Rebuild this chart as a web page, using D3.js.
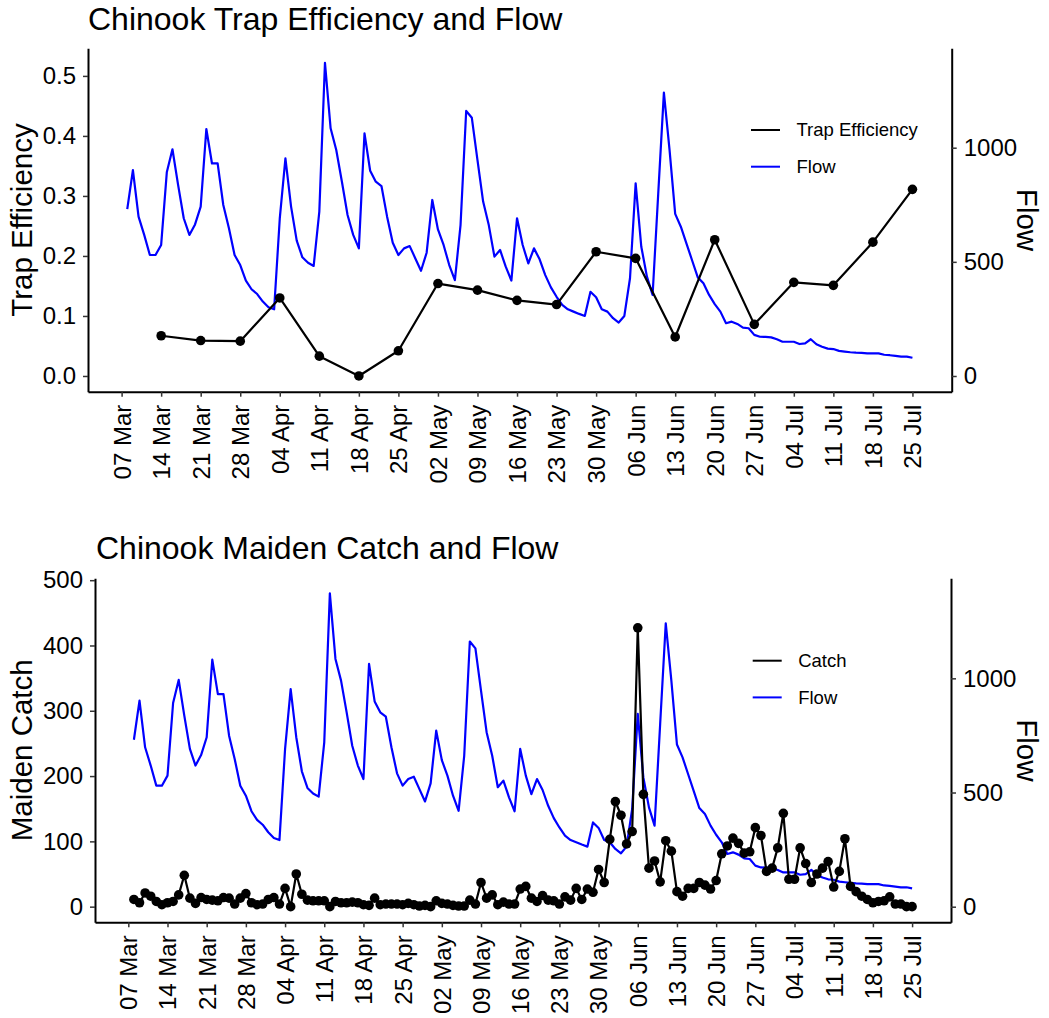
<!DOCTYPE html>
<html>
<head>
<meta charset="utf-8">
<script src="https://cdn.jsdelivr.net/npm/d3@7"></script>
<style>
  body { margin: 0; background: #fff; }
  text { font-family: "Liberation Sans", Arial, sans-serif; fill: #000; }
</style>
</head>
<body>
<svg id="chart" width="1049" height="1018"></svg>
<script>
// daily series start on this date (one value per day)
var startDate = "2019-03-08";

// daily flow, Mar 8 - Jul 25
var flow = [
  731, 902, 698, 618, 530, 530, 574, 892, 993, 837,
  691, 618, 664, 742, 1082, 931, 931, 749, 647, 530,
  486, 418, 380, 359, 326, 301, 292, 690, 953, 742,
  593, 520, 496, 482, 720, 1372, 1085, 990, 851, 705,
  618, 559, 1063, 899, 851, 832, 698, 584, 530, 559,
  569, 515, 461, 540, 771, 642, 574, 486, 420, 661,
  1161, 1131, 946, 764, 661, 523, 552, 479, 418, 691,
  574, 493, 559, 511, 442, 388, 347, 311, 292, 282,
  272, 263, 369, 345, 292, 282, 253, 234, 263, 428,
  844, 566, 435, 355, 800, 1241, 990, 710, 654, 580,
  506, 432, 406, 355, 315, 282, 231, 238, 228, 212,
  209, 180, 172, 171, 169, 161, 150, 150, 150, 140,
  143, 161, 139, 128, 120, 118, 110, 107, 104, 102,
  101, 99, 99, 99, 93, 91, 88, 85, 85, 80
];

// daily maiden catch, Mar 8 - Jul 25
var maidenCatch = [
  11, 6, 21, 16, 8, 3, 6, 8, 18, 48,
  13, 5, 14, 11, 10, 9, 14, 13, 4, 13,
  20, 6, 3, 4, 11, 14, 4, 28, 0, 50,
  19, 10, 9, 9, 9, 0, 8, 6, 6, 7,
  6, 3, 2, 13, 3, 4, 4, 4, 3, 5,
  3, 1, 2, 0, 9, 5, 4, 2, 1, 1,
  10, 4, 37, 13, 18, 3, 7, 4, 4, 27,
  31, 13, 8, 17, 10, 9, 4, 15, 10, 28,
  11, 27, 22, 57, 37, 103, 161, 140, 96, 115,
  427, 172, 59, 70, 38, 101, 85, 23, 16, 28,
  28, 37, 33, 27, 40, 81, 93, 105, 97, 82,
  84, 121, 109, 54, 59, 90, 143, 42, 42, 90,
  66, 37, 50, 59, 69, 30, 54, 104, 31, 23,
  16, 11, 6, 8, 9, 15, 4, 4, 0, 0
];

// weekly trap efficiency
var effDates = [
  "2019-03-14", "2019-03-21", "2019-03-28", "2019-04-04", "2019-04-11",
  "2019-04-18", "2019-04-25", "2019-05-02", "2019-05-09", "2019-05-16",
  "2019-05-23", "2019-05-30", "2019-06-06", "2019-06-13", "2019-06-20",
  "2019-06-27", "2019-07-04", "2019-07-11", "2019-07-18", "2019-07-25"
];
var effValues = [
  0.067, 0.059, 0.058, 0.130, 0.033, 0.000, 0.042, 0.154, 0.143, 0.126,
  0.119, 0.207, 0.196, 0.065, 0.227, 0.086, 0.156, 0.151, 0.223, 0.311
];

// x tick labels (weekly)
var xTicks = [
  "2019-03-07", "2019-03-14", "2019-03-21", "2019-03-28", "2019-04-04",
  "2019-04-11", "2019-04-18", "2019-04-25", "2019-05-02", "2019-05-09",
  "2019-05-16", "2019-05-23", "2019-05-30", "2019-06-06", "2019-06-13",
  "2019-06-20", "2019-06-27", "2019-07-04", "2019-07-11", "2019-07-18",
  "2019-07-25"
];
var effTicks = [0, 0.1, 0.2, 0.3, 0.4, 0.5];
var catchTicks = [0, 100, 200, 300, 400, 500];
var flowTicks = [0, 500, 1000];

var parse = d3.timeParse("%Y-%m-%d");
var day0 = parse(startDate);
var days = flow.map(function(v, i) { return d3.timeDay.offset(day0, i); });

var flowData = flow.map(function(v, i) { return {date: days[i], value: v}; });
var catchData = maidenCatch.map(function(v, i) { return {date: days[i], value: v}; });
var effData = effValues.map(function(v, i) { return {date: parse(effDates[i]), value: v}; });

var svg = d3.select("#chart");

function drawPanel(p) {
  var g = svg.append("g");

  // x domain padded 5% each side, like ggplot
  var first = days[0], last = days[days.length - 1];
  var pad = (last - first) * 0.05;
  var x = d3.scaleTime()
    .domain([new Date(+first - pad), new Date(+last + pad)])
    .range([p.left, p.right]);
  var yL = d3.scaleLinear().domain(p.leftDomain).range([p.bottom, p.top]);
  var yR = d3.scaleLinear().domain(p.rightDomain).range([p.bottom, p.top]);

  // flow line (right axis)
  var flowLine = d3.line()
    .x(function(d) { return x(d.date); })
    .y(function(d) { return yR(d.value); });
  g.append("path")
    .datum(flowData)
    .attr("d", flowLine)
    .attr("fill", "none")
    .attr("stroke", "#0000ff")
    .attr("stroke-width", 2.2)
    .attr("stroke-linejoin", "round");

  // black series with points (left axis)
  var line = d3.line()
    .x(function(d) { return x(d.date); })
    .y(function(d) { return yL(d.value); });
  g.append("path")
    .datum(p.data)
    .attr("d", line)
    .attr("fill", "none")
    .attr("stroke", "#000")
    .attr("stroke-width", 2.2)
    .attr("stroke-linejoin", "round");
  g.selectAll(".pt")
    .data(p.data)
    .enter()
    .append("circle")
    .attr("class", "pt")
    .attr("cx", function(d) { return x(d.date); })
    .attr("cy", function(d) { return yL(d.value); })
    .attr("r", 4.8)
    .attr("fill", "#000");

  // axes
  var xAxis = g.append("g")
    .attr("transform", "translate(0," + p.bottom + ")")
    .call(d3.axisBottom(x)
      .tickValues(xTicks.map(parse))
      .tickFormat(d3.timeFormat("%d %b"))
      .tickSize(5)
      .tickSizeOuter(0));
  xAxis.selectAll("text")
    .attr("transform", "rotate(-90)")
    .attr("x", -13)
    .attr("y", 0)
    .attr("dy", "0.35em")
    .style("text-anchor", "end")
    .style("font-size", "24px");

  var leftAxis = g.append("g")
    .attr("transform", "translate(" + p.left + ",0)")
    .call(d3.axisLeft(yL)
      .tickValues(p.leftTicks)
      .tickFormat(p.leftFormat)
      .tickSize(5)
      .tickSizeOuter(0)
      .tickPadding(7));
  leftAxis.selectAll("text").style("font-size", "24px");

  var rightAxis = g.append("g")
    .attr("transform", "translate(" + p.right + ",0)")
    .call(d3.axisRight(yR)
      .tickValues(flowTicks)
      .tickFormat(d3.format("d"))
      .tickSize(5)
      .tickSizeOuter(0)
      .tickPadding(7));
  rightAxis.selectAll("text").style("font-size", "24px");

  [xAxis, leftAxis, rightAxis].forEach(function(a) {
    a.select(".domain").attr("stroke", "#000").attr("stroke-width", 2);
    a.selectAll(".tick line").attr("stroke", "#333").attr("stroke-width", 1.5);
    a.selectAll("text").attr("fill", "#000").attr("font-family", null);
  });

  // titles
  g.append("text")
    .attr("x", p.titleX)
    .attr("y", p.titleY)
    .style("font-size", "32px")
    .text(p.title);

  var midY = (p.top + p.bottom) / 2;
  g.append("text")
    .attr("transform", "translate(32," + midY + ") rotate(-90)")
    .style("text-anchor", "middle")
    .style("font-size", "29.5px")
    .text(p.leftLabel);
  g.append("text")
    .attr("transform", "translate(1017," + midY + ") rotate(90)")
    .style("text-anchor", "middle")
    .style("font-size", "29.5px")
    .text("Flow");

  // legend
  var legend = [
    {label: p.legendLabel, color: "#000"},
    {label: "Flow", color: "#0000ff"}
  ];
  var lg = g.append("g");
  legend.forEach(function(item, i) {
    var ly = p.legendY + i * 36.7;
    lg.append("line")
      .attr("x1", p.legendX).attr("x2", p.legendX + 29)
      .attr("y1", ly).attr("y2", ly)
      .attr("stroke", item.color)
      .attr("stroke-width", 2);
    lg.append("text")
      .attr("x", p.legendX + 45.5)
      .attr("y", ly)
      .attr("dy", "0.35em")
      .style("font-size", "18.5px")
      .text(item.label);
  });
}

drawPanel({
  title: "Chinook Trap Efficiency and Flow",
  titleX: 88, titleY: 30,
  left: 88, right: 951.7, top: 48.3, bottom: 391.7,
  leftDomain: [-0.0262, 0.546],
  rightDomain: [-68.8, 1435.4],
  leftTicks: effTicks,
  leftFormat: d3.format(".1f"),
  leftLabel: "Trap Efficiency",
  legendLabel: "Trap Efficiency",
  legendX: 751, legendY: 130,
  data: effData
});

drawPanel({
  title: "Chinook Maiden Catch and Flow",
  titleX: 96, titleY: 559,
  left: 95, right: 951, top: 578.3, bottom: 922.3,
  leftDomain: [-23.95, 502.9],
  rightDomain: [-68.3, 1438],
  leftTicks: catchTicks,
  leftFormat: d3.format("d"),
  leftLabel: "Maiden Catch",
  legendLabel: "Catch",
  legendX: 752.7, legendY: 660.7,
  data: catchData
});
</script>
</body>
</html>
